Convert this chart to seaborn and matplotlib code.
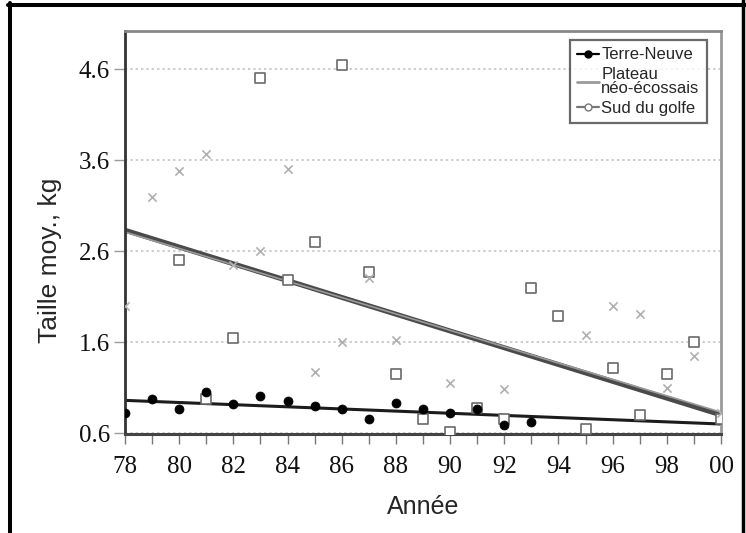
import matplotlib
matplotlib.use("Agg")
import matplotlib.pyplot as plt
from matplotlib.lines import Line2D
from matplotlib.ticker import MultipleLocator, FuncFormatter
import seaborn as sns

# ── Data ──────────────────────────────────────────────────────────────────────
tn_years = list(range(1978, 1994))
tn_size  = [0.82, 0.97, 0.86, 1.05, 0.92, 1.01, 0.95, 0.90, 0.87, 0.76, 0.93, 0.86,
            0.82, 0.86, 0.69, 0.72]

pn_years = [1978, 1979, 1980, 1981, 1982, 1983, 1984, 1985, 1986, 1987, 1988, 1990,
            1992, 1995, 1996, 1997, 1998, 1999, 2000]
pn_size  = [2.00, 3.19, 3.48, 3.67, 2.45, 2.60, 3.50, 1.27, 1.60, 2.30, 1.62, 1.15,
            1.08, 1.68, 2.00, 1.91, 1.10, 1.45, 0.82]

sg_years = [1980, 1981, 1982, 1983, 1984, 1985, 1986, 1987, 1988, 1989, 1990, 1991,
            1992, 1993, 1994, 1995, 1996, 1997, 1998, 1999, 2000]
sg_size  = [2.50, 0.97, 1.65, 4.50, 2.28, 2.70, 4.65, 2.37, 1.25, 0.75, 0.61, 0.88,
            0.75, 2.19, 1.89, 0.64, 1.32, 0.80, 1.25, 1.60, 0.76]

trend_years = [1978, 2000]
tn_trend    = [0.96, 0.70]
sg_trend    = [2.83, 0.80]
pn_trend    = [2.81, 0.83]

legend_labels = ["Terre-Neuve", "Plateau\nnéo-écossais", "Sud du golfe"]
y_ticks = [0.6, 1.6, 2.6, 3.6, 4.6]

# ── Style ─────────────────────────────────────────────────────────────────────
sns.set_theme(style="white")
plt.rcParams['font.family'] = ['Liberation Sans', 'DejaVu Sans']

fig = plt.figure(figsize=(7.46, 5.33), dpi=100)
ax = fig.add_axes([0.1676, 0.1857, 0.7989, 0.7561])

ax.yaxis.grid(True, linestyle=(0, (1.5, 2)), color='#bdbdbd', lw=1.1)
ax.set_axisbelow(True)

# ── Trend lines ───────────────────────────────────────────────────────────────
sns.lineplot(x=trend_years, y=sg_trend, color='#4a4a4a', lw=3.6, ax=ax, zorder=2)
sns.lineplot(x=trend_years, y=pn_trend, color='#9a9a9a', lw=1.2, ax=ax, zorder=2)
sns.lineplot(x=trend_years, y=tn_trend, color='#1c1c1c', lw=2.2, ax=ax, zorder=2)

# ── Points ────────────────────────────────────────────────────────────────────
sns.scatterplot(x=sg_years, y=sg_size, marker='s', s=60, facecolor='white',
                edgecolor='#6a6a6a', linewidth=1.2, ax=ax, zorder=3)
sns.scatterplot(x=pn_years, y=pn_size, marker='x', s=35, color='#b0b0b0',
                linewidth=1.2, ax=ax, zorder=3)
sns.scatterplot(x=tn_years, y=tn_size, marker='o', s=42, color='black',
                edgecolor='black', ax=ax, zorder=4)

# ── Axes ──────────────────────────────────────────────────────────────────────
ax.set_xlim(1978, 2000)
ax.set_ylim(0.59, 5.02)
ax.xaxis.set_major_locator(MultipleLocator(2))
ax.xaxis.set_minor_locator(MultipleLocator(1))
ax.xaxis.set_major_formatter(FuncFormatter(lambda v, p: f"{int(round(v)) % 100:02d}"))
ax.set_yticks(y_ticks)
ax.yaxis.set_major_formatter(FuncFormatter(lambda v, p: f"{v:.1f}"))

ax.tick_params(axis='x', which='both', direction='out', length=7, width=1,
               color='#777777', pad=9, labelsize=18, labelcolor='#111111',
               labelfontfamily='Liberation Serif')
ax.tick_params(axis='y', direction='out', length=8, width=1, color='#9a9a9a',
               pad=3, labelsize=18, labelcolor='#111111',
               labelfontfamily='Liberation Serif')
ax.tick_params(left=True, bottom=True)
ax.tick_params(axis='x', which='minor', bottom=True)

for side, col, lw in [('left', '#333333', 2.0), ('bottom', '#444444', 2.2),
                      ('top', '#888888', 2.0), ('right', '#999999', 2.0)]:
    ax.spines[side].set_visible(True)
    ax.spines[side].set_color(col)
    ax.spines[side].set_linewidth(lw)

ax.set_ylabel("Taille moy., kg", fontsize=19)
ax.yaxis.set_label_coords(-0.105, 0.43)
ax.set_xlabel("Année", fontsize=18, labelpad=12)

# ── Legend ────────────────────────────────────────────────────────────────────
handles = [Line2D([0], [0], color='black', lw=1.6, marker='o', ms=5),
           Line2D([0], [0], color='#9a9a9a', lw=2),
           Line2D([0], [0], color='#777777', lw=1.6, marker='o', ms=5,
                  mfc='white', mec='#777777')]
leg = ax.legend(handles, legend_labels, loc='upper right',
                bbox_to_anchor=(0.9765, 0.978), frameon=True, fancybox=False,
                edgecolor='#444444', fontsize=12, handlelength=1.3,
                handletextpad=0.15, borderpad=0.45, labelspacing=0.3,
                borderaxespad=0)
leg.get_frame().set_linewidth(1.6)
for t in leg.get_texts():
    t.set_linespacing(0.85)

# ── Scan frame ────────────────────────────────────────────────────────────────
fig.add_artist(Line2D([10 / 746, 10 / 746], [0, 1 - 3 / 533], transform=fig.transFigure,
                      color='black', lw=2.9))
fig.add_artist(Line2D([8 / 746, 1], [1 - 4.5 / 533, 1 - 4.5 / 533], transform=fig.transFigure,
                      color='black', lw=2.9))
fig.add_artist(Line2D([743 / 746, 743 / 746], [0, 1], transform=fig.transFigure,
                      color='black', lw=2.5))

fig.savefig("out.png", dpi=100)
